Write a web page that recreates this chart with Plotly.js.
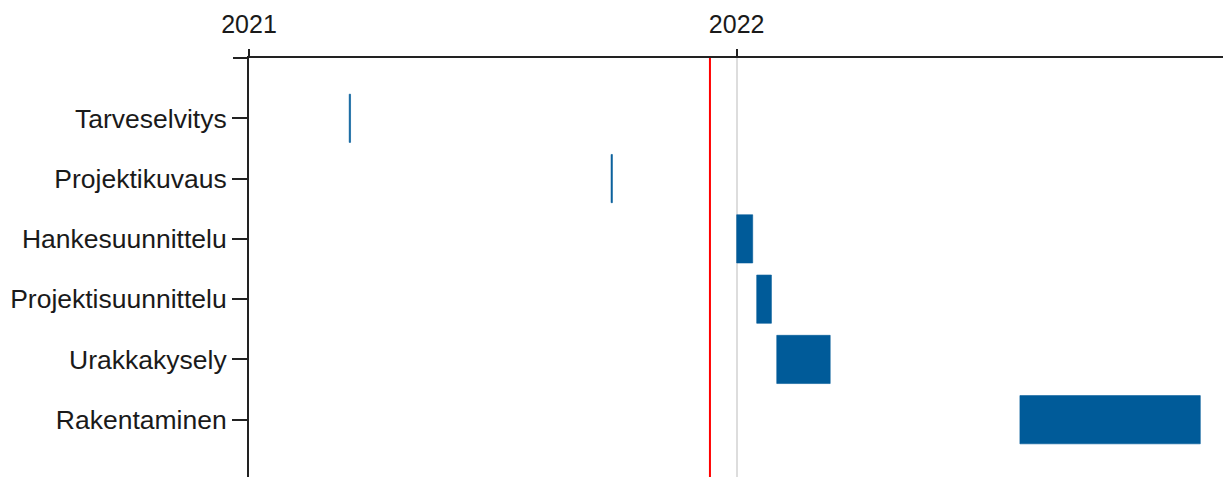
<!DOCTYPE html>
<html>
<head>
<meta charset="utf-8">
<script src="https://cdn.plot.ly/plotly-3.0.1.min.js"></script>
<style>html,body{margin:0;padding:0;background:#fff;}#chart{width:1227px;height:477px;}</style>
</head>
<body>
<div id="chart"></div>
<script>
const tasks = ['Tarveselvitys','Projektikuvaus','Hankesuunnittelu','Projektisuunnittelu','Urakkakysely','Rakentaminen'];
const starts = ['2021-03-17','2021-09-29','2022-01-01','2022-01-16','2022-01-31','2022-08-01'];
const ends = ['2021-03-18','2021-09-30','2022-01-13','2022-01-27','2022-03-12','2022-12-14'];
const today = '2021-12-12';
const tickVals = ['2021-01-01','2022-01-01'];
const tickText = ['2021','2022'];

const durations = starts.map((s,i) => new Date(ends[i]) - new Date(s));

const trace = {
  type: 'bar',
  orientation: 'h',
  y: tasks,
  x: durations,
  base: starts,
  marker: {color: '#005b99', line: {color: '#005b99', width: 0.6}},
  hoverinfo: 'skip'
};

const layout = {
  width: 1227, height: 477,
  margin: {l: 249, r: 4, t: 58, b: 0},
  paper_bgcolor: '#fff', plot_bgcolor: '#fff',
  showlegend: false,
  bargap: 0.2,
  font: {family: 'Liberation Sans, Arial, sans-serif', size: 25, color: '#1a1a1a'},
  xaxis: {
    type: 'date',
    side: 'top',
    range: ['2021-01-01', '2022-12-31'],
    tickvals: tickVals,
    ticktext: tickText,
    ticks: 'outside', ticklen: 7, tickwidth: 2, tickcolor: '#222',
    showline: true, linecolor: '#222', linewidth: 2,
    showgrid: true, gridcolor: '#dddddd', gridwidth: 2,
    zeroline: false,
    ticklabelstandoff: 6,
    tickfont: {size: 25}
  },
  yaxis: {
    type: 'category',
    categoryorder: 'array', categoryarray: tasks,
    range: [5.95, -1],
    ticks: 'outside', ticklen: 15, tickwidth: 2, tickcolor: '#222',
    showline: true, linecolor: '#222', linewidth: 2,
    showgrid: false, zeroline: false,
    tickfont: {size: 26.5}
  },
  shapes: [
    {type: 'line', xref: 'x', yref: 'paper', x0: today, x1: today, y0: 0, y1: 1,
     line: {color: '#ff0000', width: 2}},
    {type: 'line', xref: 'paper', yref: 'paper', x0: -16/974, x1: 0, y0: 1, y1: 1,
     line: {color: '#222', width: 2}}
  ]
};

Plotly.newPlot('chart', [trace], layout, {staticPlot: true, displayModeBar: false});
</script>
</body>
</html>
